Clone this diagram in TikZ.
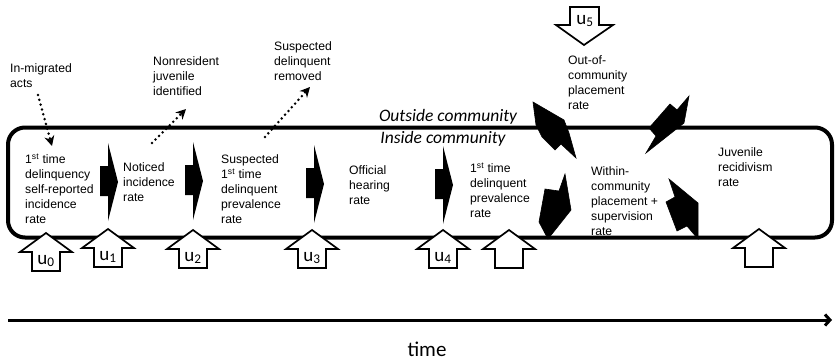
\documentclass[tikz,border=0pt]{standalone}
\usepackage{fontspec}
\setmainfont{Liberation Sans}
\newfontfamily\calib{Carlito}
\usetikzlibrary{arrows.meta}
\begin{document}
\begin{tikzpicture}[x=1pt,y=-1pt,
  lbl/.style={anchor=west, align=left, inner sep=0pt, font=\fontsize{12.2}{15}\selectfont},
  zone/.style={inner sep=0pt, font=\calib\itshape\fontsize{17.5}{20}\selectfont},
  frame/.style={line width=4pt, rounded corners=17pt},
  dots/.style={line width=2.8pt, dash pattern=on 0pt off 5pt, line cap=round,
    -{Stealth[length=10pt,width=10pt]}},
  bolt/.style={fill=black, draw=black, line width=0.6pt, line join=miter},
  ulbl/.style={inner sep=0pt, font=\calib\fontsize{19}{20}\selectfont},
  blockarrow/.pic={
    \fill[black] (-8,-16) -- (0,-16) -- (0,-39) -- (10,0) -- (0,39) -- (0,14) -- (-8,14) -- cycle;
  },
  uparrow/.pic={
    \draw[line width=1.7pt, fill=white, line join=miter]
      (0,0) -- (26,19) -- (14,19) -- (14,38) -- (-14,38) -- (-14,19) -- (-26,19) -- cycle;
    \node[ulbl] (-l) at (0,28) {\tikzpictext};
  },
]
\useasboundingbox (0,0) rectangle (836,362);

% community frame
\draw[frame] (8,127.5) rectangle (832,237.5);

% zone captions
\node[zone] (outside) at (448,117) {Outside community};
\node[zone] (inside) at (443,139) {Inside community};

% stage labels inside the frame
\node[lbl] (s0) at (25,189) {1\textsuperscript{st} time\\delinquency\\self-reported\\incidence\\rate};
\node[lbl] (s1) at (123,182) {Noticed\\incidence\\rate};
\node[lbl] (s2) at (221,189) {Suspected\\1\textsuperscript{st} time\\delinquent\\prevalence\\rate};
\node[lbl] (s3) at (349,185.5) {Official\\hearing\\rate};
\node[lbl] (s4) at (470,190.5) {1\textsuperscript{st} time\\delinquent\\prevalence\\rate};
\node[lbl] (s5) at (591,201) {Within-\\community\\placement +\\supervision\\rate};
\node[lbl] (s6) at (718,167) {Juvenile\\recidivism\\rate};

% flows across the boundary
\node[lbl] (inmig) at (10,76) {In-migrated\\acts};
\node[lbl] (nonres) at (153,76.5) {Nonresident\\juvenile\\identified};
\node[lbl] (removed) at (274,61) {Suspected\\delinquent\\removed};
\node[lbl] (outplace) at (568,83) {Out-of-\\community\\placement\\rate};

\coordinate (d1a) at (38,95);   \coordinate (d1b) at (52,146);
\coordinate (d2a) at (152,143); \coordinate (d2b) at (186,109);
\coordinate (d3a) at (265,137); \coordinate (d3b) at (310,87);
\draw[dots] (d1a) -- (d1b);
\draw[dots] (d2a) -- (d2b);
\draw[dots] (d3a) -- (d3b);

% stage-to-stage block arrows
\pic at (108,182) {blockarrow};
\pic at (193,181) {blockarrow};
\pic at (314,184) {blockarrow};
\pic at (443,185) {blockarrow};

% placement bolts
\draw[bolt] (533,102) -- (564,120) -- (569,133) -- (576,158) -- (561,144) -- (555,150) -- (542,137) -- (536,125) -- cycle;
\draw[bolt] (689,96) -- (684,123) -- (646,153) -- (656,136) -- (649,128) -- (670,104) -- (677,110) -- cycle;
\draw[bolt] (565,174) -- (571,210) -- (548,239) -- (539,222) -- (545,189) -- (559,191) -- cycle;
\draw[bolt] (669,179) -- (698,203) -- (698,239) -- (687,226) -- (677,231) -- (666,202) -- (675,197) -- cycle;

% inputs
\pic[pic text={u\textsubscript{0}}] (u0) at (46,233) {uparrow};
\pic[pic text={u\textsubscript{1}}] (u1) at (108,229) {uparrow};
\pic[pic text={u\textsubscript{2}}] (u2) at (193,230) {uparrow};
\pic[pic text={u\textsubscript{3}}] (u3) at (312,230) {uparrow};
\pic[pic text={u\textsubscript{4}}] (u4) at (443,230) {uparrow};
\pic[pic text={}] (u6) at (509,230) {uparrow};
\pic[pic text={}] (u7) at (759,229) {uparrow};

% input from outside
\draw[line width=1.7pt, fill=white, line join=miter]
  (584,45) -- (613,25) -- (599,25) -- (599,7) -- (570,7) -- (570,25) -- (556,25) -- cycle;
\node[ulbl] (u5) at (585,21) {u\textsubscript{5}};

% time axis
\coordinate (t0) at (8,320);
\coordinate (t1) at (832,320);
\draw[line width=3pt, -{Straight Barb[length=5pt,width=11pt]}] (t0) -- (t1);
\node[anchor=base, inner sep=0pt, font=\calib\fontsize{21}{24}\selectfont] (time) at (427,356) {time};
\end{tikzpicture}
\end{document}
